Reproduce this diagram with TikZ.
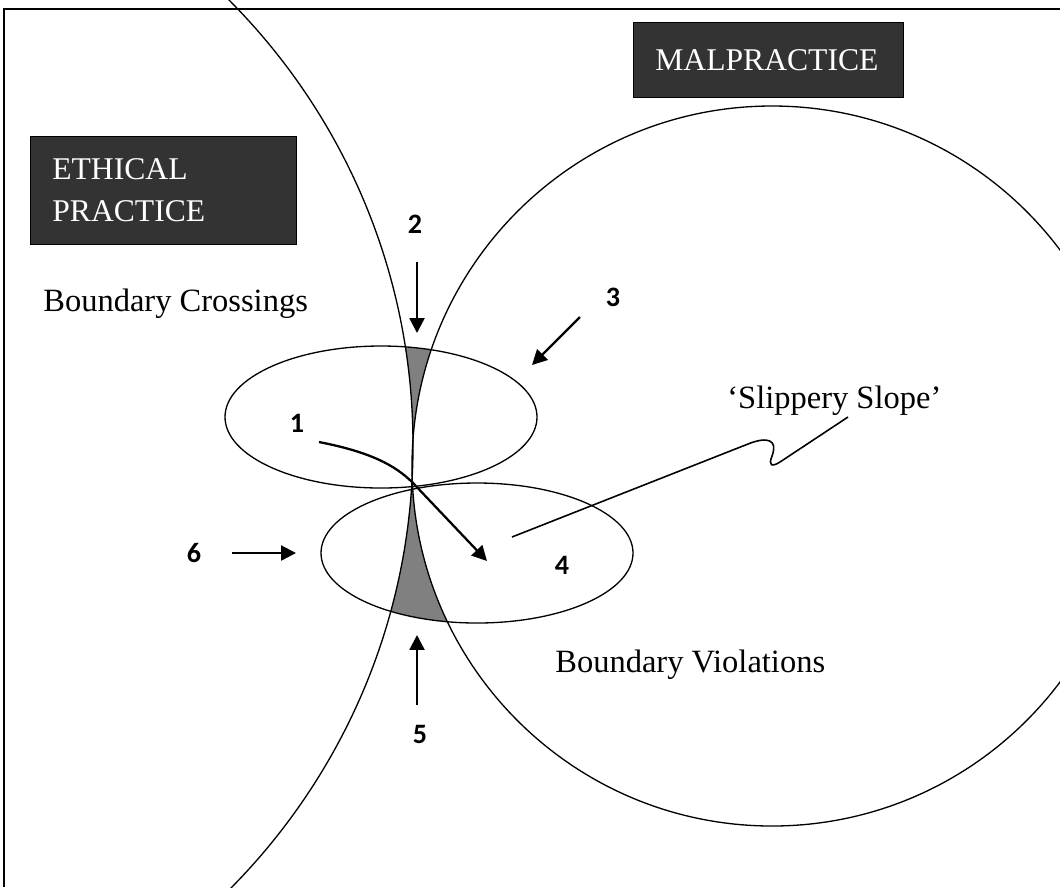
\documentclass[tikz,border=0pt]{standalone}
\usepackage{fontspec}
\setmainfont{Liberation Serif}
\newfontfamily\numfont{Carlito}
\usetikzlibrary{arrows.meta}

\begin{document}
\begin{tikzpicture}[x=0.02cm, y=-0.02cm]
    % Styles
    \tikzstyle{ring} = [draw=black, line width=0.75pt]
    \tikzstyle{pointer} = [-{Triangle[length=8.5pt, width=8.5pt]}, line width=1.3pt]
    \tikzstyle{num} = [font=\numfont\bfseries\fontsize{16}{19}\selectfont]
    \tikzstyle{banner} = [draw=black, fill=black!80, text=white, anchor=north west, align=left, inner xsep=0.44cm, font=\fontsize{18}{24}\selectfont]
    \tikzstyle{zonetext} = [anchor=base west, inner sep=0pt, font=\fontsize{18.5}{22}\selectfont]

    \useasboundingbox (0,0) rectangle (1060,887);
    \clip (0,0) rectangle (1060,887);

    % Shaded gaps inside the two ellipses
    \begin{scope}
        \clip (381,417) ellipse [x radius=156, y radius=71];
        \fill[gray, even odd rule] (0,0) rectangle (1060,887) (-217,445) circle [radius=630] (772,466) circle [radius=360];
    \end{scope}
    \begin{scope}
        \clip (477,553) ellipse [x radius=156, y radius=70];
        \fill[gray, even odd rule] (0,0) rectangle (1060,887) (-217,445) circle [radius=630] (772,466) circle [radius=360];
    \end{scope}

    % Frame, big circles and ellipses
    \draw[line width=1.2pt] (4,887) -- (4,9) -- (1060,9);
    \draw[ring] (-217,445) circle [radius=630];
    \draw[ring] (772,466) circle [radius=360];
    \draw[ring] (381,417) ellipse [x radius=156, y radius=71];
    \draw[ring] (477,553) ellipse [x radius=156, y radius=70];

    % Boxes and texts
    \node[banner, minimum width=5.32cm, minimum height=2.16cm, text width=4.44cm] (ethical) at (30,136) {ETHICAL\\PRACTICE};
    \node[banner, minimum width=5.4cm, minimum height=1.5cm, text width=4.52cm] (malpractice) at (633,22) {MALPRACTICE};
    \node[zonetext] (crossings) at (43,311) {Boundary Crossings};
    \node[zonetext] (violations) at (555,672) {Boundary Violations};
    \node[zonetext] (slope) at (727,408) {‘Slippery Slope’};

    % Numbers
    \node[num] (n1) at (297,423) {1};
    \node[num] (n2) at (415,224) {2};
    \node[num] (n3) at (613,297) {3};
    \node[num] (n4) at (562,565) {4};
    \node[num] (n5) at (420,734) {5};
    \node[num] (n6) at (194,553) {6};

    % Arrow ends
    \coordinate (a1s) at (319,442);
    \coordinate (a1m) at (413,483);
    \coordinate (a1e) at (487,561);
    \coordinate (a2s) at (417,262);
    \coordinate (a2e) at (417,333);
    \coordinate (a3s) at (580,317);
    \coordinate (a3e) at (532,365);
    \coordinate (a5s) at (417,705);
    \coordinate (a5e) at (417,635);
    \coordinate (a6s) at (232,553);
    \coordinate (a6e) at (296,553);
    \coordinate (s0) at (512,537);
    \coordinate (s1) at (848,417);

    % Arrows
    \draw[pointer] (a1s) .. controls (370,452) and (395,465) .. (a1m) -- (a1e);
    \draw[pointer] (a2s) -- (a2e);
    \draw[pointer] (a3s) -- (a3e);
    \draw[pointer] (a5s) -- (a5e);
    \draw[pointer] (a6s) -- (a6e);

    % Slope line
    \draw[line width=0.9pt] (s0) -- (748,444) .. controls (768,436) and (778,440) .. (772,456) .. controls (768,466) and (772,467) .. (780,462) -- (s1);
\end{tikzpicture}
\end{document}
